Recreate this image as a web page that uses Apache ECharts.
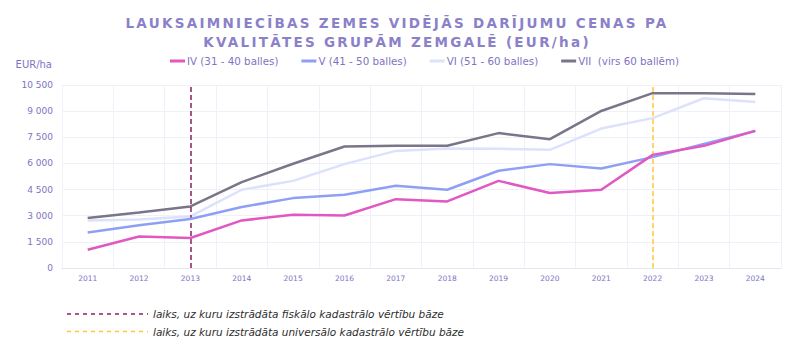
<!DOCTYPE html>
<html>
<head>
<meta charset="utf-8">
<script src="https://cdn.jsdelivr.net/npm/echarts@6/dist/echarts.min.js"></script>
<style>
  html, body { margin: 0; padding: 0; background: #fff; }
  #chart { width: 800px; height: 350px; }
</style>
</head>
<body>
<div id="chart"></div>
<script>
// Average agricultural land transaction prices in Zemgale by quality group (EUR/ha)
const years = ['2011','2012','2013','2014','2015','2016','2017','2018','2019','2020','2021','2022','2023','2024'];

const groupIV  = [1050, 1810, 1720, 2730, 3050, 3010, 3950, 3820, 5000, 4300, 4490, 6490, 7010, 7870];
const groupV   = [2040, 2450, 2810, 3500, 4010, 4200, 4720, 4490, 5580, 5960, 5710, 6360, 7120, 7870];
const groupVI  = [2730, 2780, 2960, 4490, 5000, 5960, 6720, 6850, 6840, 6780, 8000, 8600, 9740, 9530];
const groupVII = [2870, 3190, 3530, 4930, 5980, 6970, 7010, 7010, 7740, 7390, 9010, 10030, 10030, 9990];

const seriesNames = ['IV (31 - 40 balles)', 'V (41 - 50 balles)', 'VI (51 - 60 balles)', 'VII  (virs 60 ballēm)'];
const seriesColors = ['#e158c2', '#8fa0f4', '#dce2fb', '#7a7588'];

const fiscalYear = '2013';     // fiscal cadastral value base year
const universalYear = '2022';  // universal cadastral value base year

const yTicks = { min: 0, max: 10500, interval: 1500 };

const titleLines = ['LAUKSAIMNIECĪBAS ZEMES VIDĒJĀS DARĪJUMU CENAS PA', 'KVALITĀTES GRUPĀM ZEMGALĒ (EUR/ha)'];
const noteFiscal = 'laiks, uz kuru izstrādāta fiskālo kadastrālo vērtību bāze';
const noteUniversal = 'laiks, uz kuru izstrādāta universālo kadastrālo vērtību bāze';

const purple = '#7d74c2';
const fmt = v => String(v).replace(/\B(?=(\d{3})+(?!\d))/g, ' ');

const chart = echarts.init(document.getElementById('chart'), null, { renderer: 'svg' });

const dataSets = [groupIV, groupV, groupVI, groupVII];
const series = dataSets.map((d, i) => ({
  name: seriesNames[i],
  type: 'line',
  data: d,
  symbol: 'none',
  z: 3 + (3 - i),
  lineStyle: { width: 2.5, color: seriesColors[i] },
  itemStyle: { color: seriesColors[i] }
}));

// vertical reference lines for the cadastral base years
series.push({
  name: 'refs',
  type: 'line',
  data: [],
  silent: true,
  markLine: {
    symbol: 'none',
    silent: true,
    label: { show: false },
    data: [
      { xAxis: fiscalYear, lineStyle: { color: '#8c1f5f', type: [5, 3], width: 1.5 } },
      { xAxis: universalYear, lineStyle: { color: '#ffc933', type: [5, 3], width: 1.5 } }
    ]
  }
});

const noteFont = 'italic 10.5px "DejaVu Sans"';

chart.setOption({
  backgroundColor: '#ffffff',
  animation: false,
  title: {
    text: titleLines.join('\n'),
    left: 392,
    top: 8,
    textAlign: 'center',
    textStyle: {
      fontFamily: 'DejaVu Sans',
      fontWeight: 'bold',
      fontSize: 13.5,
      lineHeight: 19.5,
      color: '#8a81c9'
    }
  },
  legend: {
    top: 56,
    left: 170,
    padding: 0,
    itemWidth: 15,
    itemHeight: 3,
    itemGap: 23,
    icon: 'rect',
    data: seriesNames,
    textStyle: { fontFamily: 'DejaVu Sans', fontSize: 10.3, color: purple, padding: [0, 0, 0, -3] }
  },
  grid: { left: 62, right: 19, top: 85, bottom: 82, containLabel: false },
  xAxis: {
    type: 'category',
    data: years,
    boundaryGap: true,
    axisLine: { show: true, lineStyle: { color: '#e6e6f2' } },
    axisTick: { show: false },
    splitLine: { show: true, lineStyle: { color: '#f0f0f8' } },
    axisLabel: { fontFamily: 'DejaVu Sans', fontSize: 7.5, color: purple, margin: 6 }
  },
  yAxis: {
    type: 'value',
    min: yTicks.min,
    max: yTicks.max,
    interval: yTicks.interval,
    name: 'EUR/ha',
    nameLocation: 'end',
    nameGap: 16,
    nameTextStyle: { fontFamily: 'DejaVu Sans', fontSize: 10, color: purple, align: 'right', padding: [0, 10, 0, 0] },
    axisLine: { show: false },
    axisTick: { show: false },
    splitLine: { show: true, lineStyle: { color: '#f0f0f8' } },
    axisLabel: { fontFamily: 'DejaVu Sans', fontSize: 9, color: purple, margin: 9, formatter: fmt }
  },
  series: series,
  graphic: [
    { type: 'line', shape: { x1: 67, y1: 314, x2: 148, y2: 314 }, style: { stroke: '#8c1f5f', lineWidth: 1.5, lineDash: [4, 4] } },
    { type: 'text', x: 153, y: 314, style: { text: noteFiscal, font: noteFont, fill: '#2e2e2e', textVerticalAlign: 'middle' } },
    { type: 'line', shape: { x1: 67, y1: 331.5, x2: 148, y2: 331.5 }, style: { stroke: '#ffc933', lineWidth: 1.5, lineDash: [4, 4] } },
    { type: 'text', x: 153, y: 331.5, style: { text: noteUniversal, font: noteFont, fill: '#2e2e2e', textVerticalAlign: 'middle' } }
  ]
});

// widen the tracking of the title lines
function spaceTitle() {
  document.querySelectorAll('#chart svg text').forEach(t => {
    if (titleLines.includes(t.textContent)) t.setAttribute('letter-spacing', '2.3');
  });
}
spaceTitle();
chart.on('finished', spaceTitle);
</script>
</body>
</html>
